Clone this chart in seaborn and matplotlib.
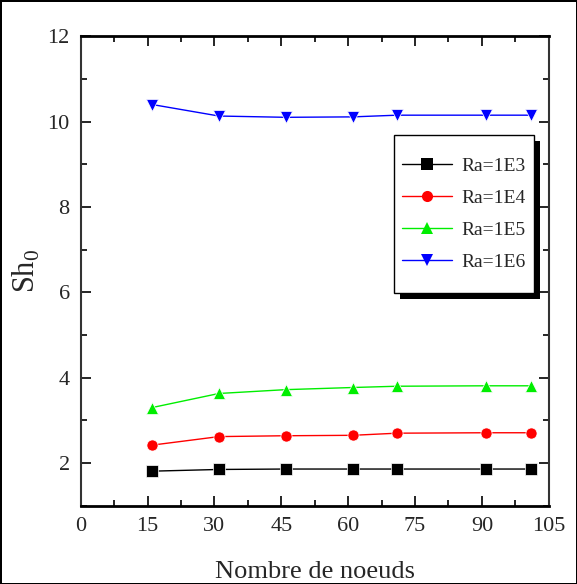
import matplotlib
matplotlib.use("Agg")
import matplotlib.pyplot as plt
from matplotlib.patches import Rectangle
from matplotlib.ticker import MultipleLocator
import seaborn as sns
import pandas as pd

# Mesh sizes (number of nodes) and mean Sherwood number for each Rayleigh number
nodes = [16, 31, 46, 61, 71, 91, 101]
sh_ra1e3 = [1.81, 1.85, 1.86, 1.86, 1.86, 1.86, 1.86]
sh_ra1e4 = [2.42, 2.62, 2.64, 2.65, 2.70, 2.71, 2.71]
sh_ra1e5 = [3.30, 3.63, 3.72, 3.77, 3.80, 3.81, 3.81]
sh_ra1e6 = [10.40, 10.13, 10.10, 10.11, 10.15, 10.15, 10.15]
series_labels = ["Ra=1E3", "Ra=1E4", "Ra=1E5", "Ra=1E6"]
x_ticks = [0, 15, 30, 45, 60, 75, 90, 105]
y_ticks = [2, 4, 6, 8, 10, 12]

frames = []
for lab, vals in zip(series_labels, [sh_ra1e3, sh_ra1e4, sh_ra1e5, sh_ra1e6]):
    frames.append(pd.DataFrame({"nodes": nodes, "Sh": vals, "Ra": lab}))
df = pd.concat(frames, ignore_index=True)

sns.set_style("ticks")
plt.rcParams["font.family"] = ["Liberation Serif", "DejaVu Serif"]
plt.rcParams["mathtext.fontset"] = "custom"
plt.rcParams["mathtext.rm"] = "Liberation Serif"

fig = plt.figure(figsize=(5.77, 5.84), dpi=100)
fig.patch.set_edgecolor("black")
fig.patch.set_linewidth(2)
ax = fig.add_axes([0.140, 0.134, 0.811, 0.804])

palette = {"Ra=1E3": "black", "Ra=1E4": "red", "Ra=1E5": "#00ee00", "Ra=1E6": "blue"}
markers = {"Ra=1E3": "s", "Ra=1E4": "o", "Ra=1E5": "^", "Ra=1E6": "v"}
sns.lineplot(data=df, x="nodes", y="Sh", hue="Ra", style="Ra", palette=palette,
             markers=markers, dashes=False, markersize=8, linewidth=1.0,
             markeredgewidth=0.5, ax=ax, legend=False)

handles = []
for lab in series_labels:
    h, = ax.plot([], [], color=palette[lab], marker=markers[lab], markersize=8,
                 linewidth=1.0, markeredgewidth=0)
    handles.append(h)

ax.set_xlim(0, 105)
ax.set_ylim(1, 12)
ax.set_xticks(x_ticks)
ax.set_yticks(y_ticks)
ax.xaxis.set_minor_locator(MultipleLocator(7.5))
ax.yaxis.set_minor_locator(MultipleLocator(1))
ax.tick_params(which="both", direction="in", top=True, right=True,
               labelsize=16, pad=8, width=1.2, color="black")
ax.tick_params(which="major", length=7)
ax.tick_params(which="minor", length=4)
for s in ["bottom", "top"]:
    ax.spines[s].set_linewidth(2.0)
    ax.spines[s].set_color("black")
for s in ["left", "right"]:
    ax.spines[s].set_linewidth(1.5)
    ax.spines[s].set_color("#333333")

ax.set_xlabel("Nombre de noeuds", fontsize=19, labelpad=18)
ax.set_ylabel(r"Sh$_0$", fontsize=22, labelpad=4)

# Legend box (frame and solid drop shadow drawn as axes-fraction rectangles)
box_x0, box_y0, box_w, box_h = 0.669, 0.453, 0.299, 0.336
sx, sy = 6 / (0.811 * 577), 6 / (0.804 * 584)
ax.add_patch(Rectangle((box_x0 + sx, box_y0 - sy), box_w, box_h,
                       transform=ax.transAxes, facecolor="black",
                       edgecolor="none", zorder=4, clip_on=False))
ax.add_patch(Rectangle((box_x0, box_y0), box_w, box_h,
                       transform=ax.transAxes, facecolor="white",
                       edgecolor="black", linewidth=1.0, zorder=4.5,
                       clip_on=False))

leg = ax.legend(handles, series_labels, loc="center",
                bbox_to_anchor=(box_x0 + box_w / 2, box_y0 + box_h / 2),
                fontsize=14, frameon=False, handlelength=2.6, borderpad=0,
                labelspacing=0.75, handletextpad=0.5)
leg.set_zorder(5)

fig.savefig("out.png", dpi=100, edgecolor=fig.get_edgecolor())
